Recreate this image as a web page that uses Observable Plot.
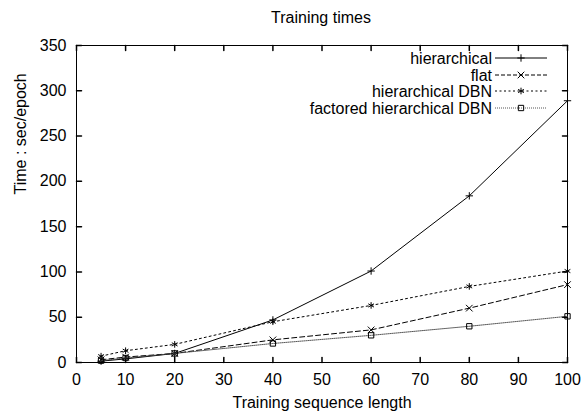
<!DOCTYPE html>
<html><head><meta charset="utf-8">
<script src="https://cdn.jsdelivr.net/npm/d3@7"></script>
<script src="https://cdn.jsdelivr.net/npm/@observablehq/plot@0.6"></script>
<style>
body{margin:0;background:#fff;}
#chart{position:relative;width:586px;height:413px;font-family:"Liberation Sans",Arial,sans-serif;background:#fff;}
#title{box-sizing:border-box;width:586px;height:30px;line-height:36px;padding-left:56px;text-align:center;font-size:16px;color:#000;overflow:visible;}
#legend{position:absolute;left:0;top:0;pointer-events:none;}
</style>
</head><body>
<div id="chart"><div id="title">Training times</div></div>
<script>
const lengths = [5, 10, 20, 40, 60, 80, 100];
const hierarchical = [1.5, 4, 10, 47, 101, 184, 289];
const flat = [3, 6, 10, 25, 36, 60, 86];
const hierarchicalDBN = [7, 13, 20, 45, 63, 84, 101];
const factoredDBN = [2, 5, 10, 21, 30, 40, 51];
const seriesNames = ["hierarchical", "flat", "hierarchical DBN", "factored hierarchical DBN"];
const xTicks = [0, 10, 20, 30, 40, 50, 60, 70, 80, 90, 100];
const yTicks = [0, 50, 100, 150, 200, 250, 300, 350];
const xLabel = "Training sequence length";
const yLabel = "Time : sec/epoch";

const styles = [
  {dash: null, legendDash: null, symbol: "plus", d3sym: d3.symbolPlus, r: 2.5, stroke: "#000", width: 1},
  {dash: "5,3", legendDash: "4,2", symbol: "times", d3sym: d3.symbolTimes, r: 3.1, stroke: "#000", width: 1},
  {dash: "2,3", legendDash: "2,2.5", symbol: "asterisk", d3sym: d3.symbolAsterisk, r: 3.1, stroke: "#000", width: 1},
  {dash: "1,1", legendDash: "1,1", symbol: "square2", d3sym: d3.symbolSquare2, r: 3.4, stroke: "#444", width: 0.9}
];
const values = [hierarchical, flat, hierarchicalDBN, factoredDBN];
const series = seriesNames.map((name, k) => ({
  name, ...styles[k],
  rows: lengths.map((x, i) => ({x, y: values[k][i]}))
}));

const tickShape = {draw(ctx, l) { ctx.moveTo(0, 0); ctx.lineTo(0, -l); }};
const tickLen = 5;

const marks = [
  Plot.frame({stroke: "#000"}),
  Plot.vector(xTicks, {x: d => d, frameAnchor: "bottom", rotate: 0, length: tickLen, anchor: "start", shape: tickShape, stroke: "#000"}),
  Plot.vector(xTicks, {x: d => d, frameAnchor: "top", rotate: 180, length: tickLen, anchor: "start", shape: tickShape, stroke: "#000"}),
  Plot.vector(yTicks, {y: d => d, frameAnchor: "left", rotate: 90, length: tickLen, anchor: "start", shape: tickShape, stroke: "#000"}),
  Plot.vector(yTicks, {y: d => d, frameAnchor: "right", rotate: -90, length: tickLen, anchor: "start", shape: tickShape, stroke: "#000"}),
  Plot.axisX(xTicks, {anchor: "bottom", tickSize: 0, tickPadding: 11, label: xLabel, labelAnchor: "center", labelOffset: 45, labelArrow: "none"}),
  Plot.axisY(yTicks, {anchor: "left", tickSize: 0, tickPadding: 10, label: null}),
  Plot.text([yLabel], {frameAnchor: "left", rotate: -90, dx: -56, dy: -9.5, text: d => d, fill: "#000"})
];
for (const s of series) {
  marks.push(Plot.line(s.rows, {x: "x", y: "y", stroke: s.stroke, strokeWidth: s.width, strokeDasharray: s.dash}));
  marks.push(Plot.dot(s.rows, {x: "x", y: "y", symbol: s.symbol, r: s.r, stroke: "#000", strokeWidth: 1}));
}

const plot = Plot.plot({
  width: 586, height: 383,
  marginTop: 15, marginBottom: 51, marginLeft: 76, marginRight: 19,
  x: {domain: [0, 100]},
  y: {domain: [0, 350]},
  style: {fontFamily: "'Liberation Sans', Arial, sans-serif", fontSize: "16px", color: "#000", background: "#fff", overflow: "visible"},
  marks
});
const chart = document.getElementById("chart");
chart.appendChild(plot);

// legend overlay
const lg = d3.select(chart).append("svg").attr("id", "legend").attr("width", 586).attr("height", 413)
  .style("font-family", "'Liberation Sans', Arial, sans-serif").style("font-size", "16px");
const rowY = [58, 75, 91, 108];
series.forEach((s, k) => {
  const y = rowY[k];
  lg.append("text").attr("x", 492).attr("y", y).attr("text-anchor", "end").attr("dy", "0.35em").attr("fill", "#000").text(s.name);
  lg.append("line").attr("x1", 495).attr("x2", 547).attr("y1", y).attr("y2", y)
    .attr("stroke", s.stroke).attr("stroke-width", s.width).attr("stroke-dasharray", s.legendDash);
  lg.append("path").attr("transform", `translate(521,${y})`)
    .attr("d", d3.symbol(s.d3sym, Math.PI * s.r * s.r)()).attr("fill", "none").attr("stroke", "#000").attr("stroke-width", 1);
});
</script>
</body></html>
